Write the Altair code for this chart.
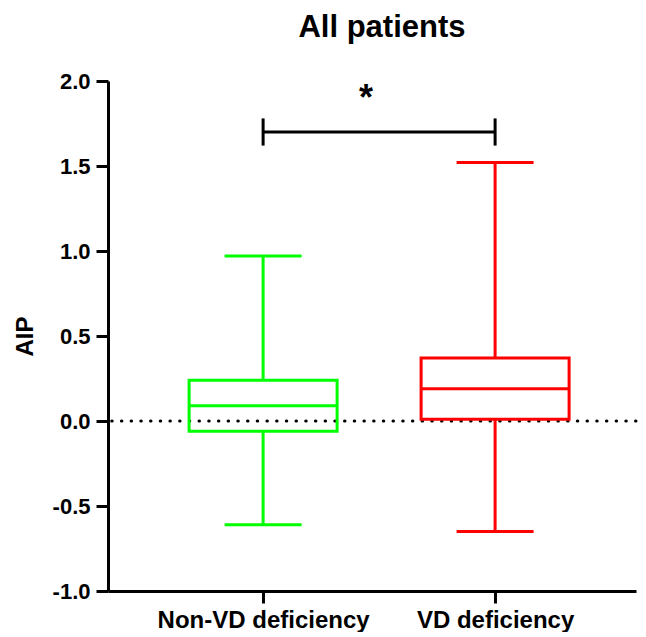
import altair as alt
import pandas as pd

groups = ["Non-VD deficiency", "VD deficiency"]
mins = [-0.61, -0.65]
q1s = [-0.06, 0.01]
medians = [0.09, 0.19]
q3s = [0.24, 0.37]
maxs = [0.97, 1.52]
colors = ["#00FF00", "#FF0000"]

bracket_y = 1.70
bracket_lo = 1.62
bracket_hi = 1.78
star_y = 1.83
star_text = "*"

FONT = "Liberation Sans"

df = pd.DataFrame({"group": groups, "min": mins, "q1": q1s, "median": medians,
                   "q3": q3s, "max": maxs})

x_scale = alt.Scale(type="point", domain=groups, padding=0.638, align=0.524)
y_scale = alt.Scale(domain=[-1, 2], nice=False, zero=False)
color_scale = alt.Scale(domain=groups, range=colors)

x_enc = alt.X("group:N", scale=x_scale, sort=groups, title=None,
              axis=alt.Axis(labelAngle=0, labelFont=FONT, labelFontSize=24,
                            labelFontWeight="bold", labelColor="black",
                            labelLimit=0,
                            domainWidth=3, domainColor="black", tickWidth=3,
                            tickColor="black", tickSize=12, labelPadding=5,
                            grid=False))
color_enc = alt.Color("group:N", scale=color_scale, legend=None)

y_axis = alt.Axis(values=[-1, -0.5, 0, 0.5, 1, 1.5, 2],
                  labelExpr="replace(format(datum.value, '.1f'), '\u2212', '-')",
                  labelFont=FONT, labelFontSize=22, labelFontWeight="bold",
                  labelColor="black", domainWidth=3, domainColor="black",
                  tickWidth=3, tickColor="black", tickSize=12, labelPadding=6,
                  grid=False, titleFont=FONT, titleFontSize=24,
                  titleFontWeight="bold", titleColor="black", titlePadding=15)


def yq(field):
    return alt.Y(field, type="quantitative", scale=y_scale, title="AIP", axis=y_axis)


base = alt.Chart(df)

zero_line = alt.Chart(pd.DataFrame({"v": [0.0]})).mark_rule(
    color="black", strokeWidth=3, strokeDash=[0.5, 9.2], strokeCap="round"
).encode(y=yq("v"))

boxes = base.mark_bar(filled=False, strokeWidth=3, size=148, opacity=1).encode(
    x=x_enc, y=yq("q1"), y2="q3", color=color_enc)
med = base.mark_tick(size=148, thickness=3, opacity=1).encode(
    x=x_enc, y=yq("median"), color=color_enc)
wh_up = base.mark_rule(strokeWidth=3, opacity=1).encode(
    x=x_enc, y=yq("q3"), y2="max", color=color_enc)
wh_lo = base.mark_rule(strokeWidth=3, opacity=1).encode(
    x=x_enc, y=yq("min"), y2="q1", color=color_enc)
cap_up = base.mark_tick(size=77, thickness=3, opacity=1).encode(
    x=x_enc, y=yq("max"), color=color_enc)
cap_lo = base.mark_tick(size=77, thickness=3, opacity=1).encode(
    x=x_enc, y=yq("min"), color=color_enc)

br_df = pd.DataFrame({"group": [groups[0]], "group2": [groups[1]], "y": [bracket_y]})
bracket = alt.Chart(br_df).mark_rule(color="black", strokeWidth=3).encode(
    x=x_enc, x2="group2:N", y=yq("y"))
brt_df = pd.DataFrame({"group": groups, "lo": [bracket_lo] * 2, "hi": [bracket_hi] * 2})
bracket_ticks = alt.Chart(brt_df).mark_rule(color="black", strokeWidth=3).encode(
    x=x_enc, y=yq("lo"), y2="hi")
star_df = pd.DataFrame({"group": [groups[0]], "y": [star_y], "t": [star_text]})
star = alt.Chart(star_df).mark_text(
    font=FONT, fontSize=36, fontWeight="bold", color="black", dx=103,
    baseline="alphabetic", align="center"
).encode(x=x_enc, y=yq("y"), text="t:N")

chart = alt.layer(zero_line, boxes, med, wh_up, wh_lo, cap_up, cap_lo,
                  bracket, bracket_ticks, star).properties(
    width=528, height=510,
    title=alt.TitleParams("All patients", font=FONT, fontSize=31,
                          fontWeight="bold", color="black", anchor="middle",
                          dx=10, offset=26),
    padding={"left": 5, "top": 4, "right": 0, "bottom": 0},
).configure_view(stroke=None)

chart.save("out.html", embed_options={"renderer": "svg", "actions": False})
